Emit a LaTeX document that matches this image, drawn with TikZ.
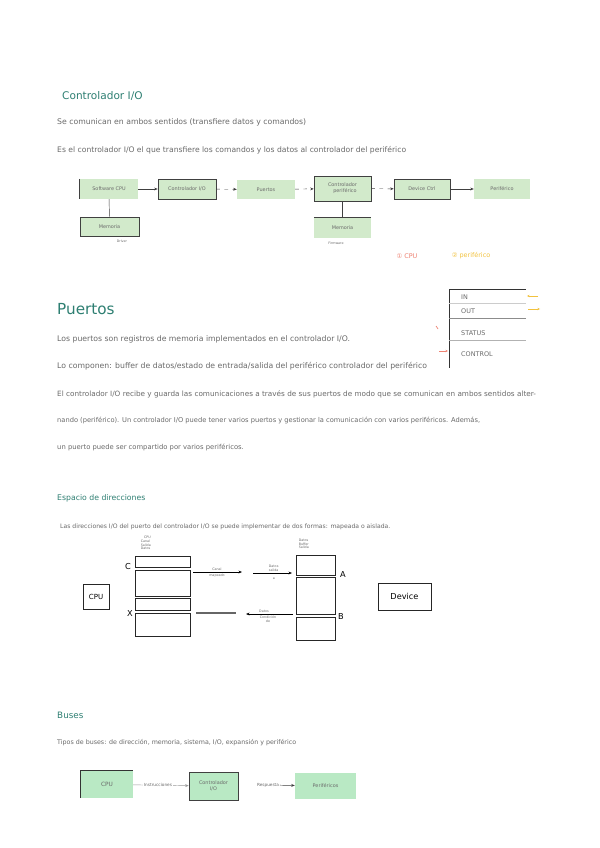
\documentclass[tikz,border=0pt]{standalone}
\usepackage{fontspec}
\setmainfont{DejaVu Sans}
\usetikzlibrary{arrows.meta}

\definecolor{titlecol}{HTML}{2E7F72}
\definecolor{notecol}{HTML}{6A6A6A}
\definecolor{boxgreen}{HTML}{D2EACB}
\definecolor{busgreen}{HTML}{B9E9C4}
\definecolor{redmark}{HTML}{EE8272}
\definecolor{yellowmark}{HTML}{F2C23E}

\tikzset{
  notetitle/.style={anchor=west, text=titlecol, inner sep=0pt},
  noteline/.style={anchor=west, text=notecol, inner sep=0pt, font=\fontsize{#1}{6}\selectfont},
  noteline/.default=5.5,
  minitext/.style={text=notecol, inner sep=0.5pt, align=left, font=\fontsize{2.8}{3.2}\selectfont},
  greenbox/.style={fill=boxgreen, draw=none, text=notecol, inner sep=0pt, align=center, font=\fontsize{4.2}{5}\selectfont},
  greenframe/.style={greenbox, draw=black!75, line width=0.5pt},
  memcell/.style={draw=black!85, line width=0.5pt, inner sep=0pt},
  arr/.style={-{Stealth[length=3pt,width=2.4pt]}, line width=0.4pt, draw=black!75},
  gaparr/.style={arr, dash pattern=on 3pt off 4pt},
  markarr/.style={-{Stealth[length=2.2pt,width=2pt]}, line width=0.5pt},
}

\begin{document}
\begin{tikzpicture}[x=0.03cm, y=-0.03cm]
  \fill[white] (0,0) rectangle (600,848);
  \useasboundingbox (0,0) rectangle (600,848);

  % Controlador I/O
  \node[notetitle, font=\fontsize{9}{10}\selectfont] (t1) at (62,96) {Controlador I/O};
  \node[noteline=6.6] (l1) at (57,122) {Se comunican en ambos sentidos (transfiere datos y comandos)};
  \node[noteline=6.5] (l2) at (57,150) {Es el controlador I/O el que transfiere los comandos y los datos al controlador del periférico};

  % cadena de control
  \node[greenbox, minimum width=1.74cm, minimum height=0.6cm] (sw) at (109,189) {Software CPU};
  \node[greenframe, minimum width=1.74cm, minimum height=0.6cm] (ctl) at (187,189) {Controlador I/O};
  \node[greenbox, minimum width=1.74cm, minimum height=0.57cm] (bus) at (266,189.5) {Puertos};
  \node[greenframe, minimum width=1.71cm, minimum height=0.75cm] (per) at (342.5,188.5) {Controlador\\ \quad periférico};
  \node[greenframe, minimum width=1.68cm, minimum height=0.6cm] (dev) at (422,189) {Device Ctrl};
  \node[greenbox, minimum width=1.68cm, minimum height=0.6cm] (pf) at (502,189) {Periférico};
  \node[greenframe, minimum width=1.77cm, minimum height=0.57cm] (mem1) at (109.5,226.5) {Memoria};
  \node[greenbox, minimum width=1.71cm, minimum height=0.6cm] (mem2) at (342.5,228) {Memoria};
  \draw[black!75, line width=0.5pt] (sw.north west) -- (sw.south west);
  \draw[black!75, line width=0.5pt] (mem2.north west) -- (mem2.north east);
  \node[minitext] (drv) at (122,241) {Driver};
  \node[minitext] (fw) at (336,243) {Firmware};

  \draw[arr] (sw) -- (ctl);
  \draw[gaparr] (ctl) -- (bus);
  \draw[gaparr] (bus) -- (per);
  \draw[gaparr] (per) -- (dev);
  \draw[arr] (dev) -- (pf);
  \draw[black!75, line width=0.4pt] (sw) -- (mem1);
  \draw[black!75, line width=0.4pt] (per) -- (mem2);

  \node[text=redmark, font=\fontsize{5.5}{6}\selectfont] (k1) at (407,256) {① CPU};
  \node[text=yellowmark, font=\fontsize{5.5}{6}\selectfont] (k2) at (471,256) {② periférico};

  % registros del puerto
  \draw[black!80, line width=0.5pt] (449,289) -- (449,368);
  \draw[black!80, line width=0.5pt] (449,289) -- (526,289);
  \draw[black!20, line width=0.4pt] (449,303) -- (526,303);
  \draw[black!45, line width=0.5pt] (449,318) -- (526,318);
  \draw[black!30, line width=0.4pt] (449,340) -- (526,340);
  \node[noteline] (rin) at (461,297) {IN};
  \node[noteline] (rout) at (461,311) {OUT};
  \node[noteline] (rst) at (461,333) {STATUS};
  \node[noteline] (rctl) at (461,354) {CONTROL};
  \coordinate (yin1) at (538,296);
  \coordinate (yin2) at (527,296);
  \coordinate (yout1) at (528,309);
  \coordinate (yout2) at (540,309);
  \draw[markarr, yellowmark] (yin1) -- (yin2);
  \draw[markarr, yellowmark] (yout1) -- (yout2);
  \coordinate (rs) at (436,326);
  \draw[redmark, line width=0.6pt] (rs) -- ++(2,3);
  \coordinate (rc1) at (439,351);
  \coordinate (rc2) at (448,351);
  \draw[markarr, redmark] (rc1) -- (rc2);

  % Puertos
  \node[notetitle, font=\fontsize{13}{14}\selectfont] (t2) at (57,309) {Puertos};
  \node[noteline=6.6] (p1) at (57,339) {Los puertos son registros de memoria implementados en el controlador I/O.};
  \node[noteline=6.6] (p2) at (57,366) {Lo componen: buffer de datos/estado de entrada/salida del periférico controlador del periférico};
  \node[noteline=6.2] (p3) at (57,394) {El controlador I/O recibe y guarda las comunicaciones a través de sus puertos de modo que se comunican en ambos sentidos alter-};
  \node[noteline=5.7] (p4) at (57,421) {nando (periférico). Un controlador I/O puede tener varios puertos y gestionar la comunicación con varios periféricos. Además,};
  \node[noteline=5.8] (p5) at (57,447) {un puerto puede ser compartido por varios periféricos.};

  % Espacio de direcciones
  \node[notetitle, font=\fontsize{6.6}{7}\selectfont] (t3) at (57,498) {Espacio de direcciones};
  \node[noteline=5.2] (e1) at (60,527) {Las direcciones I/O del puerto del controlador I/O se puede implementar de dos formas: mapeada o aislada.};

  \node[memcell, minimum width=0.78cm, minimum height=0.75cm, font=\fontsize{6}{7}\selectfont] (cpu) at (96,596.5) {CPU};
  \node[memcell, minimum width=1.65cm, minimum height=0.33cm] (c1) at (162.5,561.5) {};
  \node[memcell, minimum width=1.65cm, minimum height=0.78cm] (c2) at (162.5,583) {};
  \node[memcell, minimum width=1.65cm, minimum height=0.36cm] (x1) at (162.5,604) {};
  \node[memcell, minimum width=1.65cm, minimum height=0.69cm] (x2) at (162.5,624.5) {};
  \node[memcell, minimum width=1.17cm, minimum height=0.6cm] (a1) at (315.5,565) {};
  \node[memcell, minimum width=1.17cm, minimum height=1.11cm] (a2) at (315.5,595.5) {};
  \node[memcell, minimum width=1.17cm, minimum height=0.69cm] (b1) at (315.5,628.5) {};
  \node[memcell, minimum width=1.59cm, minimum height=0.81cm, font=\fontsize{7}{8}\selectfont] (device) at (404.5,596.5) {Device};
  \node[font=\fontsize{7}{8}\selectfont, inner sep=0pt] (lc) at (128,567) {C};
  \node[font=\fontsize{7}{8}\selectfont, inner sep=0pt] (lx) at (130,614) {X};
  \node[font=\fontsize{7}{8}\selectfont, inner sep=0pt] (la) at (343,575) {A};
  \node[font=\fontsize{7}{8}\selectfont, inner sep=0pt] (lb) at (341,617) {B};
  \node[minitext, anchor=west] (cpuinfo) at (140,543) {\quad CPU\\Canal\\Salida\\Datos};
  \node[minitext, anchor=west] (devinfo) at (298,544) {Datos\\Buffer\\Salida};

  \coordinate (ca) at (193,572);
  \coordinate (cb) at (242,572);
  \coordinate (cc) at (253,573);
  \coordinate (cd) at (292,573);
  \coordinate (xa) at (196,613);
  \coordinate (xb) at (236,613);
  \coordinate (xc) at (293,614);
  \coordinate (xd) at (246,614);
  \draw[arr, line width=0.6pt, draw=black] (ca) -- (cb);
  \draw[arr, line width=0.6pt, draw=black] (cc) -- (cd);
  \draw[black!60, line width=1pt] (xa) -- (xb);
  \draw[arr, line width=0.6pt, draw=black] (xc) -- (xd);
  \node[minitext, above] (cm1) at (217,571) {Canal};
  \node[minitext, below] (cm2) at (217,573) {mapeado};
  \node[minitext, above, align=right] (dm1) at (272,572) {Datos\\ \quad salida};
  \node[minitext, below] (dm2) at (274,577) {a};
  \node[minitext, above] (rm1) at (264,613) {Datos};
  \node[minitext, below, align=center] (rm2) at (268,615) {Condición\\de};

  % Buses
  \node[notetitle, font=\fontsize{7.5}{8}\selectfont] (t4) at (57,715) {Buses};
  \node[noteline=5.4] (b1l) at (57,743) {Tipos de buses: de dirección, memoria, sistema, I/O, expansión y periférico};

  \node[greenbox, fill=busgreen, minimum width=1.56cm, minimum height=0.81cm, font=\fontsize{5}{6}\selectfont] (bcpu) at (107,784.5) {CPU};
  \node[greenframe, fill=busgreen, minimum width=1.47cm, minimum height=0.84cm] (bctl) at (213.5,786) {Controlador\\I/O};
  \node[greenbox, fill=busgreen, minimum width=1.83cm, minimum height=0.78cm] (bper) at (325.5,786) {Periféricos};
  \draw[black!80, line width=0.5pt] (bcpu.south west) -- (bcpu.north west) -- (bcpu.north east);
  \draw[arr, draw=black!40] (bcpu) -- (bctl);
  \node[minitext, font=\fontsize{3.6}{4}\selectfont, fill=white] (ins) at (158,785) {Instrucciones};
  \node[minitext, font=\fontsize{3.6}{4}\selectfont] (resp) at (268,785) {Respuesta};
  \draw[arr] (resp) -- (bper);
\end{tikzpicture}
\end{document}
